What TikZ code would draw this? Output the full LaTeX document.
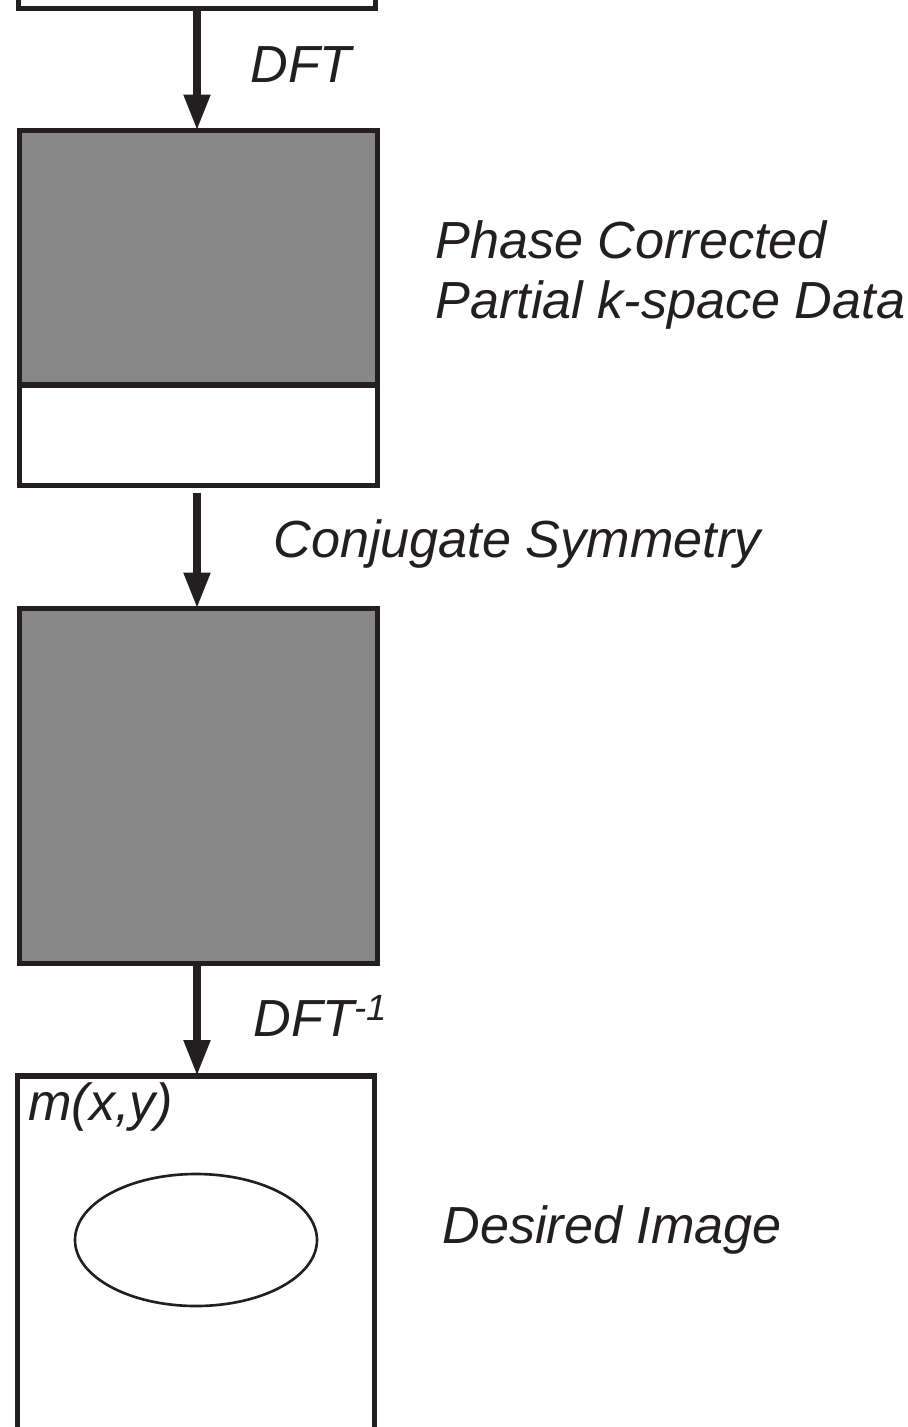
\documentclass[tikz,border=0pt]{standalone}
\usepackage{fontspec}
\setmainfont{Liberation Sans}
\usetikzlibrary{arrows.meta,backgrounds,shapes.geometric}
\definecolor{kgray}{HTML}{878787}
\definecolor{ink}{HTML}{231F20}
\tikzset{
  kbox/.style={draw=ink,line width=3pt,minimum width=7.15cm,minimum height=7.1cm,inner sep=0pt,outer sep=0pt},
  flow/.style={draw=ink,line width=4.5pt,-{Triangle[length=0.72cm,width=0.5cm]}},
  lbl/.style={font=\fontsize{29.7}{34}\selectfont\itshape,text=ink,inner sep=0pt,anchor=base west,align=left}
}
\begin{document}
\begin{tikzpicture}
\useasboundingbox (0,0) rectangle (18.16,-28.54);
\clip (0,0) rectangle (18.16,-28.54);
% boxes
\node[kbox] (raw) at (3.94,3.38) {};
\node[kbox] (pc) at (3.97,-6.16) {};
\coordinate (split) at (0,-7.7);
\begin{scope}[on background layer]
\fill[kgray] (pc.north west) rectangle (pc.east |- split);
\end{scope}
\draw[ink,line width=3pt] (pc.west |- split) -- (pc.east |- split);
\node[kbox,fill=kgray] (full) at (3.97,-15.72) {};
\node[kbox,minimum height=7.3cm] (img) at (3.92,-25.17) {};
\node[draw=ink,ellipse,line width=1.5pt,minimum width=4.84cm,minimum height=2.64cm,inner sep=0pt] (obj) at (3.92,-24.8) {};
% arrows
\draw[flow] (raw.south -| 3.94,0) -- (pc.north -| 3.94,0);
\draw[flow] ([yshift=-0.14cm]pc.south -| 3.94,0) -- (full.north -| 3.94,0);
\draw[flow] (full.south -| 3.94,0) -- (img.north -| 3.94,0);
% labels
\node[lbl] (dft) at (5.0,-1.64) {DFT};
\node[lbl] (pclbl) at (8.7,-6.36) {Phase Corrected\\Partial k-space Data};
\node[lbl] (conj) at (5.46,-11.14) {Conjugate Symmetry};
\node[lbl] (idft) at (5.06,-20.72) {DFT\textsuperscript{-1}};
\node[lbl] (mxy) at (0.56,-22.4) {m(x,y)};
\node[lbl] (want) at (8.84,-24.86) {Desired Image};
\end{tikzpicture}
\end{document}
